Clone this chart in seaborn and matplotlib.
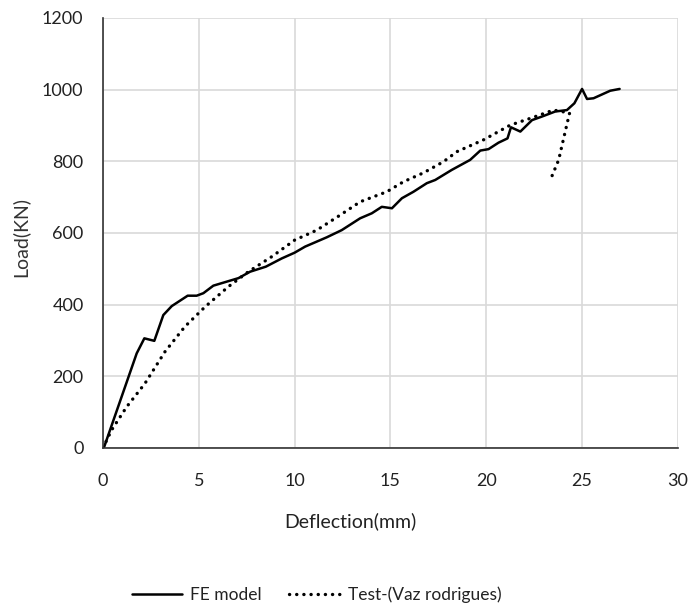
import matplotlib
matplotlib.use("Agg")
import matplotlib.pyplot as plt
import seaborn as sns
import pandas as pd
from matplotlib.lines import Line2D

fe_x = [0, 0.07, 1.76, 2.16, 2.68, 3.15, 3.59, 4.42, 4.89, 5.24, 5.76, 7.07, 7.68, 8.5,
        9.33, 10.0, 10.55, 11.68, 12.46, 13.42, 14.03, 14.55, 15.08, 15.6, 16.2, 16.9,
        17.34, 18.2, 19.16, 19.69, 20.12, 20.64, 21.11, 21.29, 21.78, 22.39, 22.91,
        23.6, 24.21, 24.6, 25.0, 25.26, 25.6, 26.47, 26.96]
fe_y = [0, 4, 264, 306, 299, 371, 396, 425, 425, 432, 453, 474, 492, 506,
        529, 545, 562, 588, 608, 641, 655, 673, 669, 697, 715, 739,
        748, 776, 804, 830, 834, 852, 864, 895, 883, 915, 925,
        939, 943, 962, 1002, 974, 976, 997, 1002]

test_x = [0, 0.45, 1.24, 2.19, 3.24, 4.28, 5.33, 6.54, 7.59, 8.81, 10.0, 11.16, 12.38,
          13.42, 14.11, 14.81, 15.68, 16.73, 17.77, 18.47, 19.86, 21.25, 22.3, 23.51,
          24.35, 24.2, 24.0, 23.78, 23.43]
test_y = [0, 50, 115, 180, 269, 339, 394, 450, 492, 534, 580, 608, 650,
          687, 701, 715, 743, 768, 799, 827, 860, 901, 920, 943,
          935, 901, 855, 804, 759]

series_names = ["FE model", "Test-(Vaz rodrigues)"]
x_ticks = [0, 5, 10, 15, 20, 25, 30]
y_ticks = [0, 200, 400, 600, 800, 1000, 1200]

df = pd.concat([
    pd.DataFrame({"x": fe_x, "y": fe_y, "series": series_names[0]}),
    pd.DataFrame({"x": test_x, "y": test_y, "series": series_names[1]}),
], ignore_index=True)

sns.set_theme(style="whitegrid")
plt.rcParams["font.family"] = ["Lato", "DejaVu Sans"]

dot_style = (0, (0.05, 2.1))

fig = plt.figure(figsize=(6.91, 6.10), dpi=100)
ax = fig.add_axes([0.149, 0.2656, 0.832, 0.7049])

sns.lineplot(data=df, x="x", y="y", hue="series", style="series", sort=False,
             palette=["black", "black"], dashes=[(None, None), dot_style[1]],
             linewidth=2.0, ax=ax, legend=False, estimator=None)

lines = ax.get_lines()
lines[0].set_linewidth(1.8)
lines[1].set_linewidth(2.4)
lines[1].set_dash_capstyle("round")

ax.set_xlim(0, 30)
ax.set_ylim(0, 1200)
ax.set_xticks(x_ticks)
ax.set_yticks(y_ticks)
ax.tick_params(axis="both", labelsize=13, colors="#222222", length=0)
ax.tick_params(axis="x", pad=18)
ax.tick_params(axis="y", pad=14)
ax.grid(True, color="#d9d9d9", linewidth=1.2)
for s in ["top", "right"]:
    ax.spines[s].set_visible(False)
for s in ["left", "bottom"]:
    ax.spines[s].set_color("#333333")
    ax.spines[s].set_linewidth(1.2)
ax.set_xlabel("Deflection(mm)", fontsize=14, color="#222222")
ax.xaxis.set_label_coords(0.43, -0.15)
ax.set_ylabel("Load(KN)", fontsize=14, color="#333333")
ax.yaxis.set_label_coords(-0.128, 0.49)

handles = [Line2D([], [], color="black", linewidth=1.8),
           Line2D([], [], color="black", linewidth=2.4, linestyle=dot_style,
                  dash_capstyle="round")]
fig.legend(handles, series_names, loc="center", bbox_to_anchor=(0.458, 0.025), ncol=2,
           frameon=False, fontsize=12.5, handlelength=2.9, columnspacing=1.6,
           handletextpad=0.45, labelcolor="#222222")

fig.savefig("out.png", dpi=100)
